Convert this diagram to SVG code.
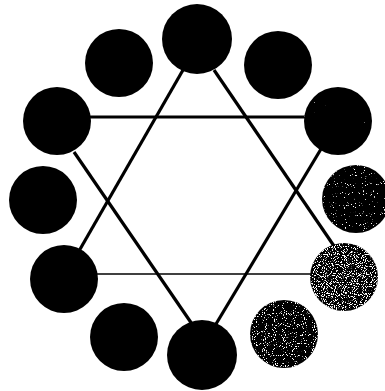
<svg xmlns="http://www.w3.org/2000/svg" width="385" height="391" viewBox="0 0 385 391">
<style>
.edge{stroke:#000;fill:none;stroke-linecap:butt}
.thick{stroke-width:3.2}
.thin{stroke-width:1.6}
.node{stroke:none;fill:#000}
</style>
<defs>
<filter id="speck1" x="0" y="0" width="1" height="1" color-interpolation-filters="sRGB">
<feTurbulence type="fractalNoise" baseFrequency="0.9" numOctaves="1" seed="3" result="n"/>
<feColorMatrix in="n" type="matrix" values="0 0 0 0 1 0 0 0 0 1 0 0 0 0 1 20 0 0 0 -15.6" result="w"/>
<feComposite in="w" in2="SourceGraphic" operator="in" result="wd"/>
<feMerge><feMergeNode in="SourceGraphic"/><feMergeNode in="wd"/></feMerge>
</filter>
<filter id="speck2" x="0" y="0" width="1" height="1" color-interpolation-filters="sRGB">
<feTurbulence type="fractalNoise" baseFrequency="0.9" numOctaves="1" seed="5" result="n"/>
<feColorMatrix in="n" type="matrix" values="0 0 0 0 1 0 0 0 0 1 0 0 0 0 1 20 0 0 0 -13.4" result="w"/>
<feComposite in="w" in2="SourceGraphic" operator="in" result="wd"/>
<feMerge><feMergeNode in="SourceGraphic"/><feMergeNode in="wd"/></feMerge>
</filter>
<filter id="speck3" x="0" y="0" width="1" height="1" color-interpolation-filters="sRGB">
<feTurbulence type="fractalNoise" baseFrequency="0.9" numOctaves="1" seed="7" result="n"/>
<feColorMatrix in="n" type="matrix" values="0 0 0 0 1 0 0 0 0 1 0 0 0 0 1 20 0 0 0 -11" result="w"/>
<feComposite in="w" in2="SourceGraphic" operator="in" result="wd"/>
<feMerge><feMergeNode in="SourceGraphic"/><feMergeNode in="wd"/></feMerge>
</filter>
<filter id="speck4" x="0" y="0" width="1" height="1" color-interpolation-filters="sRGB">
<feTurbulence type="fractalNoise" baseFrequency="0.9" numOctaves="1" seed="9" result="n"/>
<feColorMatrix in="n" type="matrix" values="0 0 0 0 1 0 0 0 0 1 0 0 0 0 1 20 0 0 0 -12.2" result="w"/>
<feComposite in="w" in2="SourceGraphic" operator="in" result="wd"/>
<feMerge><feMergeNode in="SourceGraphic"/><feMergeNode in="wd"/></feMerge>
</filter>
</defs>
<rect width="385" height="391" fill="#fff"/>
<g id="connectors">
<line class="edge thick" x1="183" y1="70" x2="79" y2="251"/>
<line class="edge thick" x1="214" y1="70" x2="334" y2="246"/>
<line class="edge thin" x1="96" y1="274" x2="312" y2="274"/>
<line class="edge thick" x1="90" y1="117" x2="306" y2="117"/>
<line class="edge thick" x1="74" y1="152" x2="192" y2="324"/>
<line class="edge thick" x1="321" y1="149" x2="216" y2="324"/>
</g>
<g id="n-top"><circle class="node" cx="197" cy="39" r="35"/></g>
<g id="n-ul"><circle class="node" cx="119" cy="63" r="34"/></g>
<g id="n-ur"><circle class="node" cx="278" cy="65" r="34"/></g>
<g id="n-l1"><circle class="node" cx="57" cy="121" r="34"/></g>
<g id="n-r1"><circle class="node" cx="338" cy="121" r="34" filter="url(#speck1)"/></g>
<g id="n-l2"><circle class="node" cx="43" cy="200" r="34"/></g>
<g id="n-r2"><circle class="node" cx="356" cy="199" r="34" filter="url(#speck2)"/></g>
<g id="n-l3"><circle class="node" cx="64" cy="279" r="34"/></g>
<g id="n-r3"><circle class="node" cx="344" cy="277" r="34" filter="url(#speck3)"/></g>
<g id="n-bl"><circle class="node" cx="124" cy="337" r="34"/></g>
<g id="n-br"><circle class="node" cx="284" cy="334" r="34" filter="url(#speck4)"/></g>
<g id="n-bottom"><circle class="node" cx="202" cy="355" r="35"/></g>
</svg>
